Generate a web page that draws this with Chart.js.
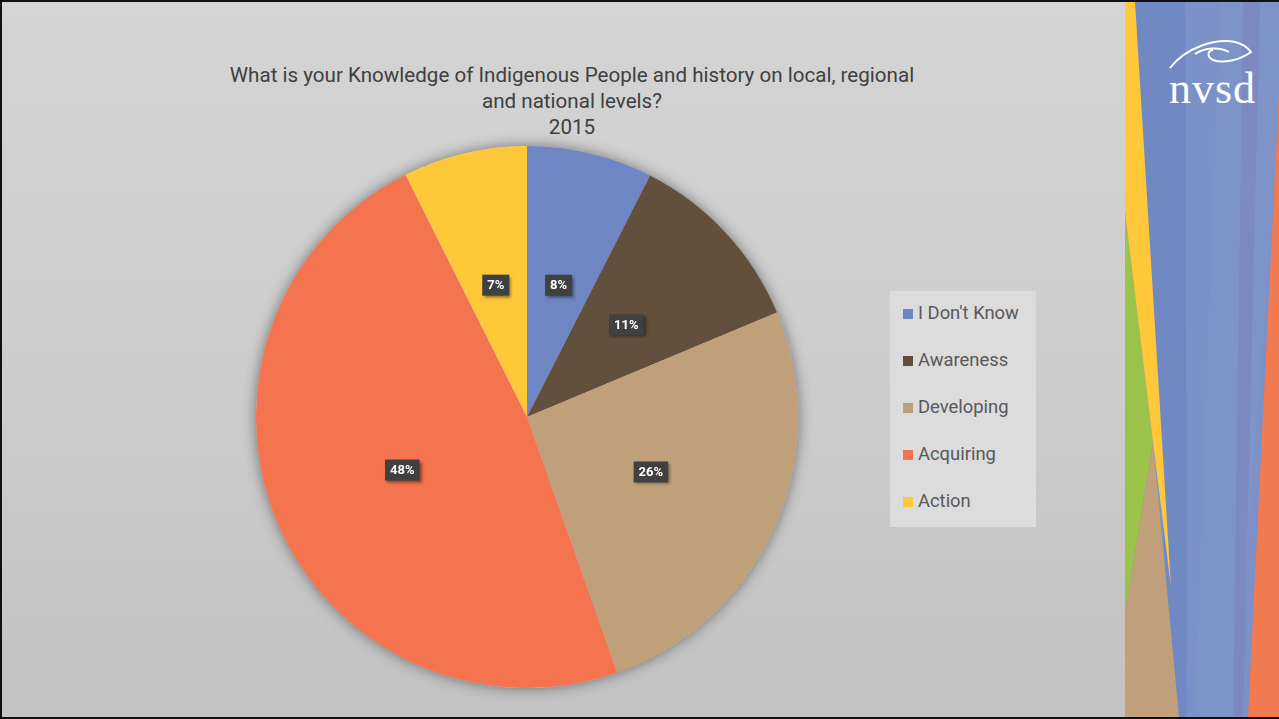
<!DOCTYPE html>
<html>
<head>
<meta charset="utf-8">
<script src="https://cdn.jsdelivr.net/npm/chart.js@4"></script>
<style>
    html, body { margin: 0; padding: 0; }
    body { width: 1279px; height: 719px; overflow: hidden; font-family: Roboto, "Noto Sans", sans-serif; }
    #slide {
        position: relative; width: 1279px; height: 719px; box-sizing: border-box;
        border: 2px solid #111;
        background: linear-gradient(to bottom, #d4d4d4 0%, #cecece 45%, #c2c2c2 100%);
    }
    #title {
        position: absolute; left: 170px; top: 60px; width: 800px;
        text-align: center; color: #404040; font-size: 20.6px; line-height: 26px;
    }
    #pieChart { position: absolute; left: 0; top: 0; }
    #legend {
        position: absolute; left: 888px; top: 289px; width: 146px; height: 236px;
        background: #dcdcdc; box-sizing: border-box; padding-top: 12px;
    }
    .legend-item { height: 47px; display: flex; align-items: flex-start; color: #595959; font-size: 18.4px; line-height: 20px; }
    .legend-swatch { width: 10px; height: 10px; margin: 6px 5px 0 13px; flex: none; }
    #panel { position: absolute; left: 1123px; top: 0; }
</style>
</head>
<body>
<div id="slide">
    <div id="title">What is your Knowledge of Indigenous People and history on local, regional<br>and national levels?<br>2015</div>
    <canvas id="pieChart" width="1123" height="715"></canvas>
    <div id="legend"></div>
    <svg id="panel" width="154" height="715" viewBox="0 0 154 715">
        <rect x="0" y="0" width="154" height="715" fill="#7b91c7"/>
        <polygon points="10,0 60,0 62,715 48,715" fill="#7189c3"/>
        <polygon points="95,0 154,0 154,120 110,715 70,715" fill="#8096ca" opacity="0.6"/>
        <polygon points="118,0 135,0 118,715 108,715" fill="#7e86bf" opacity="0.7"/>
        <polygon points="0,210 28,440 0,613" fill="#9bc24a"/>
        <polygon points="28,440 54,715 0,715 0,613" fill="#c0a07a"/>
        <polygon points="0,0 10,0 46,585 28,440 0,210" fill="#ffc83a"/>
        <polygon points="154,90 154,715 123,715" fill="#f07a52"/>
        <path d="M45,66 C60,46 90,36 110,40 C118,42 123,46 126,50 C115,58 98,62 88,58 C82,55 82,49 88,48 M70,52 C80,45 95,45 104,50" stroke="#fff" stroke-width="2" fill="none"/>
        <text x="44" y="101" fill="#fff" font-family="Liberation Serif, serif" font-size="44" letter-spacing="1">nvsd</text>
    </svg>
</div>
<script>
// Survey answers, share of respondents in percent
const categories = ["I Don't Know", "Awareness", "Developing", "Acquiring", "Action"];
const shares = [7.5, 11.2, 25.9, 48.0, 7.4];
const sliceColors = ["#6e86c3", "#624f3c", "#c0a07a", "#f47450", "#ffc83a"];

// Build the legend box next to the pie
const legendBox = document.getElementById("legend");
categories.forEach((name, i) => {
    const item = document.createElement("div");
    item.className = "legend-item";
    const swatch = document.createElement("span");
    swatch.className = "legend-swatch";
    swatch.style.background = sliceColors[i];
    const text = document.createElement("span");
    text.textContent = name;
    item.appendChild(swatch);
    item.appendChild(text);
    legendBox.appendChild(item);
});

// Soft shadow under the whole pie
const pieShadow = {
    id: "pieShadow",
    beforeDatasetsDraw(chart) {
        const arc = chart.getDatasetMeta(0).data[0];
        if (!arc) return;
        const ctx = chart.ctx;
        ctx.save();
        ctx.shadowColor = "rgba(0,0,0,0.45)";
        ctx.shadowBlur = 14;
        ctx.fillStyle = "#c8c8c8";
        ctx.beginPath();
        ctx.arc(arc.x, arc.y, arc.outerRadius, 0, Math.PI * 2);
        ctx.fill();
        ctx.restore();
    }
};

// Dark percentage tags in the middle of each slice
const sliceTags = {
    id: "sliceTags",
    afterDatasetsDraw(chart) {
        const ctx = chart.ctx;
        const values = chart.data.datasets[0].data;
        chart.getDatasetMeta(0).data.forEach((arc, i) => {
            const pos = arc.tooltipPosition();
            const label = Math.round(values[i]) + "%";
            ctx.save();
            ctx.font = "bold 13px Roboto";
            const w = ctx.measureText(label).width + 10;
            const h = 21;
            ctx.shadowColor = "rgba(0,0,0,0.45)";
            ctx.shadowBlur = 3;
            ctx.shadowOffsetX = 2;
            ctx.shadowOffsetY = 2;
            ctx.fillStyle = "#404040";
            ctx.fillRect(pos.x - w / 2, pos.y - h / 2, w, h);
            ctx.shadowColor = "transparent";
            ctx.fillStyle = "#ffffff";
            ctx.textAlign = "center";
            ctx.textBaseline = "middle";
            ctx.fillText(label, pos.x, pos.y + 1);
            ctx.restore();
        });
    }
};

new Chart(document.getElementById("pieChart"), {
    type: "pie",
    data: {
        labels: categories,
        datasets: [{
            data: shares,
            backgroundColor: sliceColors,
            borderWidth: 0
        }]
    },
    options: {
        responsive: false,
        animation: false,
        layout: { padding: { left: 254, right: 327, top: 144, bottom: 29 } },
        plugins: {
            legend: { display: false },
            tooltip: { enabled: false }
        }
    },
    plugins: [pieShadow, sliceTags]
});
</script>
</body>
</html>
